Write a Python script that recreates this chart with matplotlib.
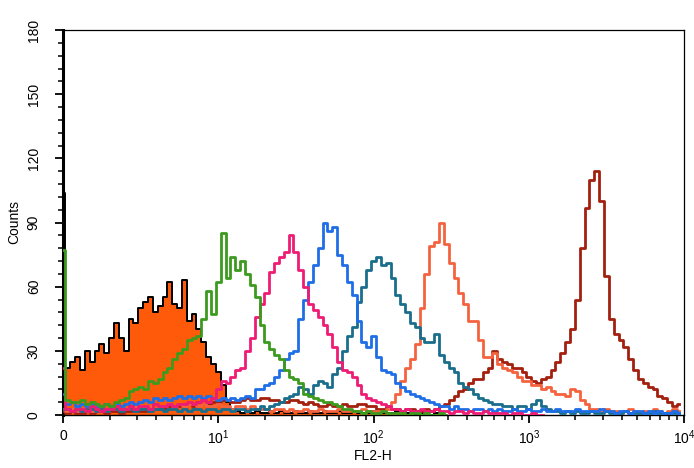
import numpy as np
import matplotlib
matplotlib.use('Agg')
import matplotlib.pyplot as plt
from matplotlib.ticker import MultipleLocator, LogLocator, NullFormatter

plt.rcParams['font.family'] = ['Liberation Sans', 'DejaVu Sans']
plt.rcParams['mathtext.fontset'] = 'custom'
plt.rcParams['mathtext.rm'] = 'Liberation Sans'
plt.rcParams['mathtext.default'] = 'regular'

# counts every 2 channels (256-channel, 4-decade log scale)
control = [104, 22, 25, 27, 21, 30, 25, 30, 33, 29,
           36, 43, 36, 30, 45, 43, 50, 53, 55, 48,
           51, 55, 62, 52, 50, 63, 44, 47, 40, 34,
           27, 24, 20, 14, 6, 3, 2, 1, 2, 1,
           2, 1, 1, 2, 1, 2, 1, 1, 2, 1,
           1, 2, 1, 1, 2, 1, 1, 2, 1, 1,
           2, 1, 1, 1, 2, 1, 1, 1, 1, 2,
           1, 1, 1, 0, 1, 1, 0, 1, 0, 0]
green = [77, 7, 6, 6, 7, 5, 6, 5, 4, 5,
         4, 6, 7, 8, 11, 12, 13, 12, 16, 15,
         17, 20, 22, 26, 29, 31, 35, 36, 37, 45,
         58, 47, 62, 85, 64, 74, 68, 72, 66, 61,
         55, 42, 34, 31, 28, 26, 21, 18, 17, 15,
         10, 9, 8, 7, 6, 6, 5, 4, 3, 3,
         2, 2, 1, 2, 1, 1, 2, 1, 1, 1,
         1, 0, 1, 1, 0, 1, 0, 0, 1, 0]
pink = [22, 3, 2, 3, 3, 2, 4, 3, 2, 3,
        3, 4, 3, 3, 4, 3, 4, 4, 3, 5,
        4, 4, 5, 4, 5, 5, 6, 5, 6, 7,
        6, 8, 12, 16, 15, 18, 21, 22, 30, 36,
        46, 52, 57, 67, 71, 74, 76, 84, 76, 68,
        60, 52, 49, 46, 42, 38, 32, 25, 21, 20,
        18, 14, 10, 8, 7, 6, 5, 4, 3, 3,
        2, 3, 2, 2, 3, 2, 2, 3, 2, 2,
        1, 2, 2, 1, 2, 1, 1, 2, 1, 1,
        1, 1, 0, 1, 1, 0, 0, 1, 0, 0]
blue = [10, 5, 6, 4, 5, 4, 5, 4, 4, 5,
        4, 5, 4, 5, 6, 5, 6, 7, 6, 8,
        7, 8, 7, 8, 9, 8, 9, 8, 9, 8,
        9, 8, 7, 8, 7, 8, 7, 8, 9, 8,
        12, 12, 14, 15, 18, 21, 26, 29, 30, 45,
        54, 62, 70, 78, 90, 86, 88, 75, 70, 62,
        56, 44, 34, 32, 37, 27, 21, 20, 19, 15,
        13, 11, 10, 9, 8, 7, 6, 5, 4, 4,
        3, 4, 3, 3, 2, 3, 3, 2, 3, 2,
        3, 2, 2, 3, 2, 2, 3, 2, 2, 3,
        2, 2, 3, 2, 2, 2, 3, 2, 2, 2,
        2, 3, 2, 2, 1, 2, 2, 1, 2, 2,
        1, 2, 1, 2, 1, 1, 2, 1]
teal = [3, 3, 2, 3, 2, 3, 3, 2, 3, 2,
        3, 3, 2, 3, 3, 2, 3, 3, 2, 3,
        3, 2, 3, 3, 2, 3, 2, 3, 3, 2,
        3, 3, 2, 3, 3, 2, 3, 3, 2, 3,
        3, 4, 3, 4, 5, 6, 8, 9, 10, 13,
        12, 10, 14, 16, 15, 13, 19, 22, 30, 37,
        41, 53, 60, 68, 72, 74, 70, 71, 64, 56,
        52, 48, 43, 41, 36, 34, 34, 38, 28, 25,
        22, 20, 15, 13, 12, 10, 8, 7, 6, 5,
        5, 4, 4, 3, 4, 4, 3, 5, 7, 4,
        3, 2, 2, 1, 2, 1, 2, 1, 1, 2,
        1, 1, 2, 1, 1, 1, 2, 1, 1, 1,
        1, 1, 2, 1, 1, 1, 1, 1]
salmon = [3, 2, 3, 2, 2, 3, 2, 3, 3, 2,
          3, 3, 4, 3, 3, 4, 3, 4, 4, 3,
          4, 4, 5, 4, 5, 4, 5, 5, 4, 5,
          4, 4, 5, 4, 4, 3, 4, 4, 3, 4,
          3, 3, 3, 2, 3, 3, 2, 3, 2, 2,
          3, 2, 2, 3, 2, 2, 2, 3, 2, 2,
          2, 2, 3, 2, 2, 2, 2, 3, 6, 10,
          16, 22, 26, 33, 50, 66, 79, 81, 90, 80,
          71, 64, 57, 52, 44, 44, 35, 27, 27, 29,
          24, 22, 21, 20, 18, 16, 16, 14, 14, 12,
          13, 11, 10, 10, 9, 12, 11, 7, 5, 3,
          3, 2, 3, 2, 2, 1, 2, 3, 2, 1,
          2, 2, 3, 2, 1, 2, 3, 2]
darkred = [2, 1, 2, 1, 1, 2, 1, 2, 2, 1,
           2, 2, 1, 2, 2, 3, 2, 2, 3, 3,
           3, 3, 4, 4, 4, 5, 5, 4, 6, 5,
           5, 6, 6, 7, 7, 6, 6, 7, 8, 7,
           7, 8, 8, 7, 7, 6, 6, 7, 7, 6,
           5, 6, 5, 4, 4, 5, 4, 4, 5, 4,
           4, 5, 5, 4, 4, 3, 3, 4, 3, 3,
           2, 3, 3, 2, 2, 3, 2, 3, 4, 5,
           7, 9, 11, 12, 15, 17, 17, 20, 22, 30,
           26, 25, 24, 22, 22, 20, 18, 16, 15, 17,
           18, 21, 25, 29, 34, 40, 54, 78, 97, 110,
           114, 100, 65, 45, 38, 35, 32, 26, 21, 17,
           15, 13, 12, 9, 8, 6, 4, 5]

x_ticks = [1, 10, 100, 1000, 10000]
x_ticklabels = ['0', '$10^1$', '$10^2$', '$10^3$', '$10^4$']
y_ticks = [0, 30, 60, 90, 120, 150, 180]


def fl2(counts):
    ch = 2 * np.arange(len(counts))
    return 10 ** (ch / 64.0)


fig = plt.figure(figsize=(6.94, 4.68), dpi=100)
ax = fig.add_axes([63 / 694, 53 / 468, 621 / 694, 385 / 468])

ax.fill_between(fl2(control), control, step='mid', color='#ff5a0a', lw=0, zorder=1)
ax.plot(fl2(control), control, drawstyle='steps-mid', color='black', lw=1.4, zorder=2)

series = [
    (darkred, '#a3200f'),
    (salmon, '#f5623e'),
    (teal, '#1a6e8c'),
    (blue, '#1e6ee8'),
    (pink, '#ee1c74'),
    (green, '#3c9b1e'),
]
for i, (vals, col) in enumerate(series):
    ax.plot(fl2(vals), vals, drawstyle='steps-mid', color=col, lw=2.0, zorder=3 + i)

ax.set_xscale('log')
ax.set_xlim(1, 10000)
ax.set_ylim(0, 180)
ax.set_xticks(x_ticks)
ax.set_xticklabels(x_ticklabels, fontsize=10)
ax.xaxis.set_minor_locator(LogLocator(base=10, subs=range(2, 10)))
ax.xaxis.set_minor_formatter(NullFormatter())
ax.set_yticks(y_ticks)
ax.set_yticklabels([str(v) for v in y_ticks], rotation=90, va='center', fontsize=10)
ax.yaxis.set_minor_locator(MultipleLocator(6))

ax.tick_params(axis='both', which='major', direction='out', length=6, width=1.3, pad=4, colors='black')
ax.tick_params(axis='both', which='minor', direction='out', length=3.5, width=1.1)
ax.tick_params(axis='y', which='major', pad=10)

ax.spines['left'].set_linewidth(2.2)
ax.spines['bottom'].set_linewidth(1.0)
ax.spines['top'].set_linewidth(0.9)
ax.spines['right'].set_linewidth(0.9)

ax.set_xlabel('FL2-H', fontsize=10, labelpad=1)
ax.set_ylabel('Counts', fontsize=10, labelpad=4)

fig.savefig('out.png', dpi=100)
